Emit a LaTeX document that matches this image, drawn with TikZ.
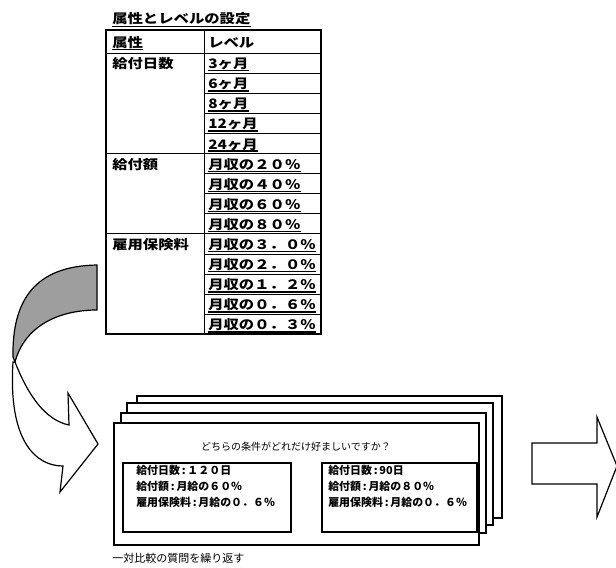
\documentclass[tikz,border=0pt]{standalone}
\usepackage{fontspec}
\setmainfont{Noto Sans CJK JP}
\begin{document}
\begin{tikzpicture}[x=0.75pt,y=-0.75pt,
  tb/.style={font=\fontsize{9.75}{11}\selectfont\bfseries, xscale=1.18, inner sep=0pt, anchor=base west},
  bx/.style={font=\fontsize{8.2}{9}\selectfont\bfseries, inner sep=0pt, anchor=base west},
  outerline/.style={line width=1.5pt},
  tline/.style={line width=0.7pt},
  uline/.style={line width=1.1pt},
  cardbox/.style={draw, fill=white, line width=1pt},
  ibox/.style={draw, line width=1pt},
  arrowshape/.style={draw, line width=0.9pt, line join=miter}]
\useasboundingbox (0,0) rectangle (616,567);

% ---------- table ----------
\node[tb] (title) at (112,24) {属性とレベルの設定};
\draw[uline] ([yshift=-2pt]title.base west) -- ([yshift=-2pt]title.base east);

\node[tb] (hattr) at (112,47.5) {属性};
\draw[uline] ([yshift=-1.6pt]hattr.base west) -- ([yshift=-1.6pt]hattr.base east);
\node[tb] (hlev) at (208,47.5) {レベル};
\draw[tline] (106,53) -- (321,53);

\foreach \t [count=\i] in {3ヶ月,6ヶ月,8ヶ月,12ヶ月,24ヶ月,月収の２０％,月収の４０％,月収の６０％,月収の８０％,月収の３．０％,月収の２．０％,月収の１．２％,月収の０．６％,月収の０．３％} {
  \pgfmathsetmacro\yb{53+20.1*\i}
  \node[tb] (lv\i) at (208,\yb-4.5) {\t};
  \draw[uline] ([yshift=-1.6pt]lv\i.base west) -- ([yshift=-1.6pt]lv\i.base east);
  \draw[tline] (204,\yb) -- (321,\yb);
}
\node[tb] (a1) at (112,68.6) {給付日数};
\node[tb] (a2) at (112,169.1) {給付額};
\node[tb] (a3) at (112,249.5) {雇用保険料};
\draw[tline] (106,153.5) -- (204,153.5);
\draw[tline] (106,233.9) -- (204,233.9);
\draw[tline] (204,30) -- (204,334.4);
\draw[outerline] (106,30) rectangle (321,334.4);

% ---------- curved arrow ----------
\filldraw[arrowshape, fill=black!38] (97,265) .. controls (35,266) and (12,300) .. (13,357) -- (15,362) .. controls (25,325) and (60,310) .. (97,310) -- cycle;
\filldraw[arrowshape, fill=white] (15,362) .. controls (28,395) and (45,420) .. (69,425) -- (68,393) -- (98,444) -- (60,492) -- (63,466) .. controls (35,466) and (8,440) .. (13,362) -- cycle;

% ---------- card stack ----------
\draw[cardbox] (137,396) rectangle (502,518);
\draw[cardbox] (127,403) rectangle (493,525);
\draw[cardbox] (121,413) rectangle (486,533);
\draw[cardbox] (114,423) rectangle (479,545);

\node[font=\fontsize{7.5}{9}\selectfont] (q) at (296,447) {どちらの条件がどれだけ好ましいですか？};

\draw[ibox] (123,463) rectangle (291,532);
\draw[ibox] (322,463) rectangle (477,532);

\node[bx] (l1) at (136,474) {給付日数\,:\,１２０日};
\node[bx] (l2) at (136,490) {給付額\,:\,月給の６０％};
\node[bx] (l3) at (136,506) {雇用保険料\,:\,月給の０．６％};
\node[bx] (r1) at (328,474) {給付日数\,:\,90日};
\node[bx] (r2) at (328,490) {給付額\,:\,月給の８０％};
\node[bx] (r3) at (328,506) {雇用保険料\,:\,月給の０．６％};

\node[anchor=base west, inner sep=0pt, font=\fontsize{8.25}{10}\selectfont] (cap) at (112,562) {一対比較の質問を繰り返す};

% ---------- right block arrow ----------
\draw[arrowshape, fill=white] (532,443) -- (597,443) -- (597,417) -- (617,466) -- (597,517) -- (597,484) -- (532,484) -- cycle;
\end{tikzpicture}
\end{document}
